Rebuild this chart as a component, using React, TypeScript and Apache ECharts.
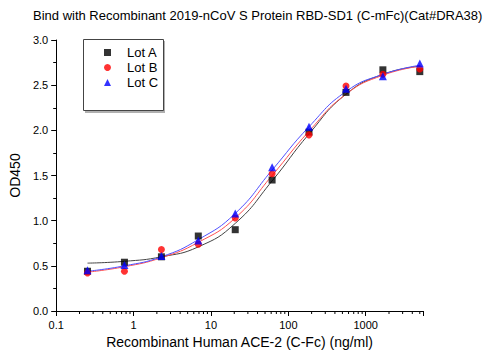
import React, { useEffect, useRef } from "react";
import * as echarts from "echarts";

// Concentrations (ng/ml), 3-fold dilution series
const concentrations = [0.254, 0.762, 2.29, 6.86, 20.6, 61.7, 185, 556, 1667, 5000];

// Measured OD450 values
const lotA = [0.44, 0.54, 0.6, 0.83, 0.9, 1.45, 1.98, 2.42, 2.67, 2.65];
const lotB = [0.42, 0.44, 0.68, 0.74, 1.03, 1.52, 1.95, 2.49, 2.62, 2.68];
const lotC = [0.45, 0.51, 0.61, 0.78, 1.08, 1.59, 2.04, 2.46, 2.6, 2.74];

// Fitted curves at the same concentrations
const fitA = [0.53, 0.55, 0.6, 0.71, 0.97, 1.44, 1.96, 2.4, 2.62, 2.71];
const fitB = [0.43, 0.49, 0.59, 0.76, 1.03, 1.5, 1.99, 2.4, 2.61, 2.71];
const fitC = [0.44, 0.5, 0.6, 0.79, 1.08, 1.56, 2.04, 2.43, 2.62, 2.72];

const titleText = "Bind with Recombinant 2019-nCoV S Protein RBD-SD1 (C-mFc)(Cat#DRA38)";
const seriesNames = ["Lot A", "Lot B", "Lot C"];
const xTickLabels = ["0.1", "1", "10", "100", "1000"];
const yTickLabels = ["0.0", "0.5", "1.0", "1.5", "2.0", "2.5", "3.0"];
const minorTickValues = [
  0.2, 0.3, 0.4, 0.5, 0.6, 0.7, 0.8, 0.9,
  2, 3, 4, 5, 6, 7, 8, 9,
  20, 30, 40, 50, 60, 70, 80, 90,
  200, 300, 400, 500, 600, 700, 800, 900,
  2000, 3000, 4000, 5000,
];

const FONT = "Liberation Sans, Arial, sans-serif";

const pair = (ys: number[]) => concentrations.map((x, i) => [x, ys[i]]);

export default function App() {
  const ref = useRef<HTMLDivElement>(null);

  useEffect(() => {
    if (!ref.current) return;
    const chart = echarts.init(ref.current, null, { renderer: "svg" });
    const fitLine = (name: string, ys: number[], color: string) => ({
      type: "line",
      name,
      data: pair(ys),
      smooth: 0.5,
      showSymbol: false,
      symbol: "none",
      lineStyle: { color, width: 1 },
      z: 2,
    });
    chart.setOption({
      animation: false,
      backgroundColor: "#ffffff",
      textStyle: { fontFamily: FONT },
      grid: { left: 53, right: 66, top: 40, bottom: 48, containLabel: false },
      legend: {
        data: seriesNames,
        orient: "vertical",
        left: 104,
        top: 45,
        itemWidth: 7,
        itemHeight: 7,
        itemGap: 0,
        padding: 0,
        textStyle: { fontSize: 13, color: "#000", fontFamily: FONT, lineHeight: 15, padding: [0, 0, 0, 11] },
      },
      graphic: [
        {
          type: "text",
          z: 10,
          x: 33,
          y: 9,
          style: {
            text: titleText,
            fill: "#000",
            fontSize: 13,
            fontFamily: FONT,
            align: "left",
            verticalAlign: "top",
          },
        },
        { type: "rect", z: 0, shape: { x: 85, y: 41, width: 80, height: 72 }, style: { fill: "#b0b0b0" } },
        { type: "rect", z: 1, shape: { x: 83.5, y: 39.5, width: 80, height: 71 }, style: { fill: "#fff", stroke: "#444", lineWidth: 1 } },
      ],
      xAxis: {
        type: "log",
        logBase: 10,
        min: 0.1,
        max: 5500,
        name: "Recombinant Human ACE-2 (C-Fc) (ng/ml)",
        nameLocation: "middle",
        nameGap: 20,
        nameTextStyle: { fontSize: 14, color: "#000", fontFamily: FONT },
        axisLine: { show: true, onZero: false, lineStyle: { color: "#000", width: 1 } },
        axisTick: { show: true, inside: false, length: 5, lineStyle: { color: "#000" } },
        axisLabel: {
          fontSize: 11,
          color: "#000",
          margin: 8,
          fontFamily: FONT,
          formatter: (v: number) => {
            const l = Math.log10(v);
            const r = Math.round(l);
            if (Math.abs(l - r) < 1e-6 && r >= -1 && r <= 3) return xTickLabels[r + 1];
            return "";
          },
        },
        splitLine: { show: false },
      },
      yAxis: {
        type: "value",
        min: 0,
        max: 3,
        interval: 0.5,
        name: "OD450",
        nameLocation: "middle",
        nameGap: 30,
        nameTextStyle: { fontSize: 14, color: "#000", fontFamily: FONT },
        axisLine: { show: true, lineStyle: { color: "#000", width: 1 } },
        axisTick: { show: true, inside: false, length: 5, lineStyle: { color: "#000" } },
        minorTick: { show: true, splitNumber: 2, length: 3, lineStyle: { color: "#000" } },
        axisLabel: {
          fontSize: 11,
          color: "#000",
          margin: 8,
          fontFamily: FONT,
          formatter: (v: number) => yTickLabels[Math.round(v / 0.5)] ?? "",
        },
        splitLine: { show: false },
      },
      series: [
        {
          type: "custom",
          name: "minorTicks",
          silent: true,
          clip: false,
          data: minorTickValues.map((v) => [v, 0]),
          renderItem: (params: any, api: any) => {
            const p = api.coord([api.value(0), 0]);
            return {
              type: "line",
              shape: { x1: p[0], y1: p[1], x2: p[0], y2: p[1] + 3 },
              style: { stroke: "#000", lineWidth: 1 },
            };
          },
        },
        fitLine("Fit A", fitA, "#444"),
        fitLine("Fit B", fitB, "#ff5050"),
        fitLine("Fit C", fitC, "#5050ff"),
        {
          type: "scatter",
          name: "Lot A",
          data: pair(lotA),
          symbol: "rect",
          symbolSize: 7,
          itemStyle: { color: "#000" },
          z: 3,
        },
        {
          type: "scatter",
          name: "Lot B",
          data: pair(lotB),
          symbol: "circle",
          symbolSize: 7,
          itemStyle: { color: "#ff0000" },
          z: 4,
        },
        {
          type: "scatter",
          name: "Lot C",
          data: pair(lotC),
          symbol: "triangle",
          symbolSize: 8,
          itemStyle: { color: "#0000ff" },
          z: 5,
        },
      ],
    });
    return () => chart.dispose();
  }, []);

  return (
    <div
      ref={ref}
      style={{ position: "fixed", left: 0, top: 0, width: 489, height: 359, background: "#fff" }}
    />
  );
}
